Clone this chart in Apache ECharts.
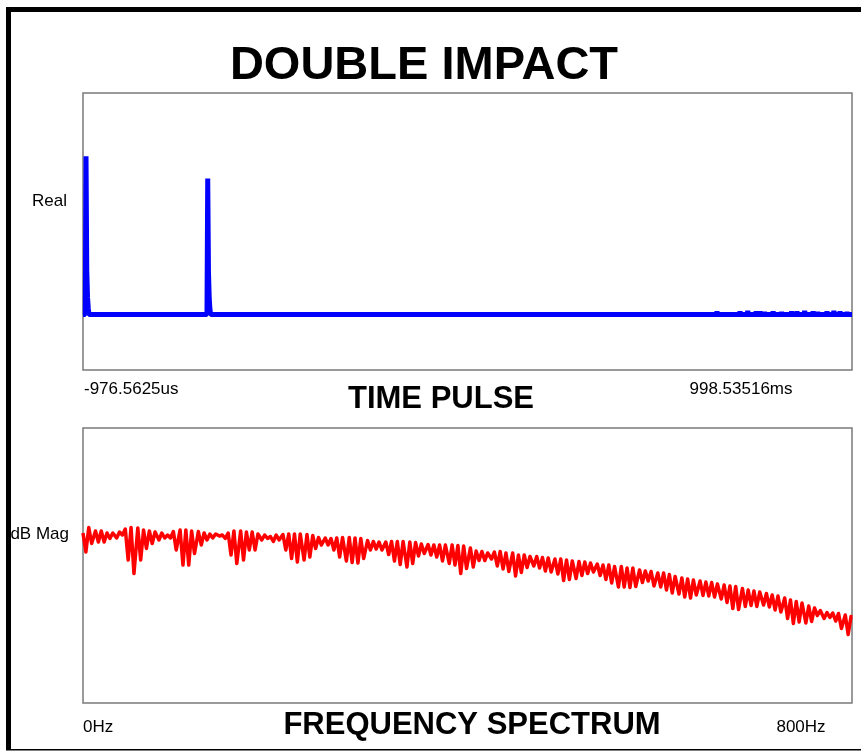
<!DOCTYPE html>
<html><head><meta charset="utf-8">
<script src="https://cdn.jsdelivr.net/npm/echarts@6/dist/echarts.min.js"></script>
<style>html,body{margin:0;padding:0;background:#fff}#c{width:861px;height:752px}</style>
</head><body><div id="c"></div>
<script>
// ---------- text ----------
const chartTitle = 'DOUBLE IMPACT';
const panelTitles = ['TIME PULSE', 'FREQUENCY SPECTRUM'];
const yAxisNames = ['Real', 'dB Mag'];
const timeTickLabels = ['-976.5625us', '998.53516ms'];
const freqTickLabels = ['0Hz', '800Hz'];

// ---------- axis ranges ----------
const timeRangeMs = [-0.9765625, 998.53516];
const freqRangeHz = [0, 800];
const realRange = [-0.35, 1.4];
const dbRange = [-40, 15];

// ---------- time pulse (ms, real) ----------
const pulseTimeMs = [-0.977, 1.953, 2.930, 3.906, 4.883, 5.859, 6.836,
  160.16, 161.13, 162.11, 163.09, 164.06, 165.04,
  808, 809, 810, 822, 823, 824, 836, 837, 838, 852, 853, 854, 862, 863, 864,
  873, 874, 875, 878, 879, 880, 884, 885, 886, 895, 896, 897, 906, 907, 908,
  919, 920, 921, 926, 927, 928, 936, 937, 938, 947, 948, 949, 953, 954, 955,
  965, 966, 967, 974, 975, 976, 982, 983, 984, 991, 992, 993, 998.535];
const pulseReal = [0, 0, 1.0, 0.28, 0.11, 0.04, 0,
  0, 0.86, 0.27, 0.10, 0.03, 0,
  0, 0.012, 0, 0, 0.018, 0, 0, 0.01, 0, 0, 0.018, 0, 0, 0.022, 0,
  0, 0.018, 0, 0, 0.018, 0, 0, 0.014, 0, 0, 0.018, 0, 0, 0.014, 0,
  0, 0.018, 0, 0, 0.018, 0, 0, 0.022, 0, 0, 0.018, 0, 0, 0.014, 0,
  0, 0.018, 0, 0, 0.022, 0, 0, 0.018, 0, 0, 0.014, 0, 0];

// ---------- frequency spectrum: ripple extrema (Hz), alternating peak / trough ----------
const specHz = [
  0,3,6,9,13,16,19,22,25,28,
  31,35,38,41,44,47,50,53,57,60,
  63,66,69,72,75,79,82,85,88,91,
  94,97,101,104,107,110,113,116,120,123,
  126,129,132,135,138,142,145,148,151,154,
  157,160,164,167,170,173,176,179,182,186,
  189,192,195,198,201,204,208,211,214,217,
  220,223,226,230,233,236,239,242,245,248,
  252,255,258,261,264,267,270,274,277,280,
  283,286,289,292,296,299,302,305,308,311,
  315,318,321,324,327,330,333,337,340,343,
  346,349,352,355,359,362,365,368,371,374,
  377,381,384,387,390,393,396,399,403,406,
  409,412,415,418,421,425,428,431,434,437,
  440,443,447,450,453,456,459,462,465,469,
  472,475,478,481,484,487,491,494,497,500,
  503,506,509,513,516,519,522,525,528,531,
  535,538,541,544,547,550,553,557,560,563,
  566,569,572,575,579,582,585,588,591,594,
  598,601,604,607,610,613,616,620,623,626,
  629,632,635,638,642,645,648,651,654,657,
  660,664,667,670,673,676,679,682,686,689,
  692,695,698,701,704,708,711,714,717,720,
  723,726,730,733,736,739,742,745,748,752,
  755,758,761,764,767,771,774,777,780,783,
  786,789,793,796,799];
const peakDb = [
  -6.0,-4.9,-5.6,-5.6,-6.0,-6.0,-5.8,-5.2,-4.9,-5.0,
  -5.4,-5.6,-5.8,-6.0,-6.4,-5.7,-5.4,-5.4,-5.6,-5.7,
  -6.0,-6.2,-6.2,-6.4,-6.0,-5.6,-5.6,-5.8,-5.8,-6.2,
  -6.4,-6.7,-6.4,-6.3,-6.2,-6.2,-6.2,-6.3,-6.5,-6.9,
  -7.0,-7.1,-7.0,-6.9,-6.9,-7.0,-7.1,-7.5,-7.7,-7.8,
  -7.8,-7.7,-7.7,-7.7,-7.8,-7.9,-8.2,-8.3,-8.4,-8.4,
  -8.4,-8.4,-8.5,-8.6,-9.0,-9.6,-9.7,-10.0,-9.8,-9.7,
  -10.0,-10.0,-10.4,-10.4,-10.7,-10.7,-10.9,-11.0,-11.2,-11.2,
  -11.4,-11.6,-11.7,-11.8,-12.0,-12.2,-12.4,-12.4,-12.7,-12.7,
  -13.0,-13.0,-13.4,-13.6,-13.7,-14.0,-14.0,-14.3,-14.7,-15.0,
  -15.2,-15.4,-15.6,-15.8,-15.9,-16.2,-16.4,-16.6,-16.7,-17.1,
  -17.4,-17.6,-17.8,-18.1,-18.4,-18.6,-19.0,-19.4,-19.7,-20.0,
  -20.6,-21.0,-21.5,-21.9,-22.0,-22.1,-22.4,-22.7];
const troughDb = [
  -9.8,-8.1,-7.8,-7.8,-7.1,-7.0,-6.4,-11.4,-14.1,-11.4,
  -9.1,-8.1,-7.4,-7.0,-7.0,-9.4,-12.4,-12.4,-10.1,-8.4,
  -7.4,-7.0,-6.6,-7.1,-10.4,-12.1,-11.4,-9.4,-9.4,-7.4,
  -7.1,-7.7,-7.4,-9.4,-11.1,-11.8,-11.4,-10.8,-9.1,-8.4,
  -8.4,-9.4,-10.8,-11.6,-11.9,-12.0,-11.1,-9.4,-9.2,-9.4,
  -10.3,-11.6,-12.3,-12.8,-12.1,-10.6,-10.1,-10.4,-10.8,-11.6,
  -12.1,-12.4,-14.1,-13.1,-12.8,-11.5,-11.5,-11.2,-12.6,-13.2,
  -13.7,-14.6,-13.9,-12.9,-12.6,-13.0,-13.6,-13.8,-14.2,-15.5,
  -15.3,-15.1,-14.5,-14.1,-13.8,-14.5,-15.3,-16.0,-16.8,-16.8,
  -16.9,-16.7,-15.9,-15.6,-16.6,-16.8,-17.4,-18.0,-18.2,-18.8,
  -19.0,-18.4,-18.5,-18.6,-18.8,-19.2,-19.9,-21.1,-21.3,-20.7,
  -20.5,-20.7,-20.4,-20.8,-21.4,-21.8,-23.1,-24.1,-23.8,-24.0,
  -23.7,-22.5,-23.1,-22.9,-23.6,-25.1,-26.3];
const specEndDb = -22.8;

// ---------- build ----------
const pulseData = pulseTimeMs.map((t, i) => [t, pulseReal[i]]);
const specData = specHz.map((f, k) => [f, k % 2 === 0 ? peakDb[k / 2] : troughDb[(k - 1) / 2]]);
specData.push([freqRangeHz[1], specEndDb]);

const FONT = '"Liberation Sans", Arial, Helvetica, sans-serif';
function txt(text, x, y, size, bold, align) {
  return { type: 'text', x: x, y: y, z: 10,
    style: { text: text, font: (bold ? 'bold ' : '') + size + 'px ' + FONT,
      fill: '#000', align: align || 'left', verticalAlign: 'middle' } };
}

const chart = echarts.init(document.getElementById('c'), null, { renderer: 'canvas', width: 861, height: 752 });
chart.setOption({
  animation: false,
  backgroundColor: '#ffffff',
  grid: [
    { left: 83, top: 93, width: 769, height: 277, show: true, borderColor: '#7a7a7a', borderWidth: 1.5, backgroundColor: 'transparent' },
    { left: 83, top: 428, width: 769, height: 275, show: true, borderColor: '#7a7a7a', borderWidth: 1.5, backgroundColor: 'transparent' }
  ],
  xAxis: [
    { type: 'value', gridIndex: 0, min: timeRangeMs[0], max: timeRangeMs[1], show: false },
    { type: 'value', gridIndex: 1, min: freqRangeHz[0], max: freqRangeHz[1], show: false }
  ],
  yAxis: [
    { type: 'value', gridIndex: 0, min: realRange[0], max: realRange[1], show: false },
    { type: 'value', gridIndex: 1, min: dbRange[0], max: dbRange[1], show: false }
  ],
  series: [
    { type: 'line', xAxisIndex: 0, yAxisIndex: 0, data: pulseData, symbol: 'none', silent: true,
      lineStyle: { color: '#0000ff', width: 5, join: 'bevel' } },
    { type: 'line', xAxisIndex: 1, yAxisIndex: 1, data: specData, symbol: 'none', silent: true,
      lineStyle: { color: '#ff0000', width: 3.5, join: 'round' } }
  ],
  graphic: [
    { type: 'rect', shape: { x: 6, y: 7, width: 5, height: 743 }, style: { fill: '#000' } },
    { type: 'rect', shape: { x: 6, y: 7, width: 855, height: 5 }, style: { fill: '#000' } },
    { type: 'rect', shape: { x: 6, y: 749, width: 855, height: 1.5 }, style: { fill: '#000' } },
    txt(chartTitle, 424, 66, 47, true, 'center'),
    txt(panelTitles[0], 441, 399, 31, true, 'center'),
    txt(panelTitles[1], 472, 725, 31, true, 'center'),
    txt(yAxisNames[0], 67, 201, 17, false, 'right'),
    txt(yAxisNames[1], 69, 534, 17, false, 'right'),
    txt(timeTickLabels[0], 84, 389, 17, false, 'left'),
    txt(timeTickLabels[1], 741, 389, 17, false, 'center'),
    txt(freqTickLabels[0], 83, 727, 17, false, 'left'),
    txt(freqTickLabels[1], 801, 727, 17, false, 'center')
  ]
});
</script>
</body></html>
